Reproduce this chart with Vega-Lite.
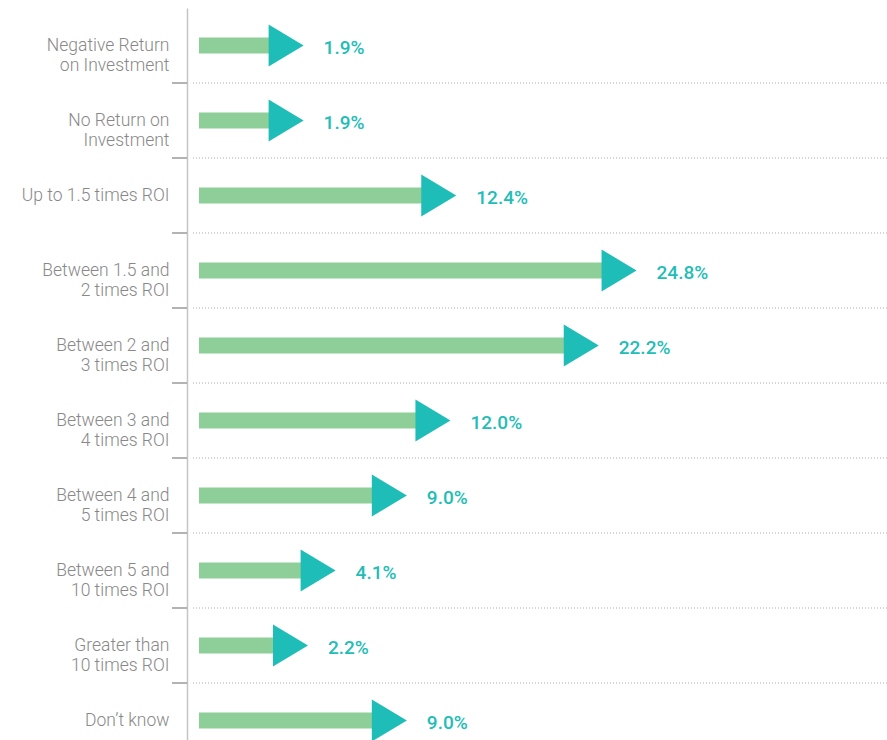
{
  "$schema": "https://vega.github.io/schema/vega-lite/v6.json",
  "autosize": "none",
  "padding": {"left": 187, "top": 8, "right": 0, "bottom": 0},
  "width": 700,
  "height": 750,
  "background": "white",
  "config": {"view": {"stroke": null}},
  "data": {
    "values": [
      {"label": "Negative Return|on Investment", "share": 0.019},
      {"label": "No Return on|Investment", "share": 0.019},
      {"label": "Up to 1.5 times ROI", "share": 0.124},
      {"label": "Between 1.5 and|2 times ROI", "share": 0.248},
      {"label": "Between 2 and|3 times ROI", "share": 0.222},
      {"label": "Between 3 and|4 times ROI", "share": 0.120},
      {"label": "Between 4 and|5 times ROI", "share": 0.090},
      {"label": "Between 5 and|10 times ROI", "share": 0.041},
      {"label": "Greater than|10 times ROI", "share": 0.022},
      {"label": "Don’t know", "share": 0.090}
    ]
  },
  "layer": [
    {
      "mark": {"type": "bar", "color": "#8ecf99", "height": 16, "xOffset": 43},
      "encoding": {
        "y": {
          "field": "label",
          "type": "nominal",
          "sort": null,
          "scale": {"paddingInner": 0, "paddingOuter": 0},
          "axis": {
            "title": null,
            "ticks": false,
            "grid": false,
            "labelPadding": 18,
            "labelExpr": "split(datum.label, '|')",
            "labelFont": "Roboto",
            "labelFontWeight": 300,
            "labelFontSize": 17.5,
            "labelLineHeight": 20.5,
            "labelColor": "#888888",
            "labelLimit": 300,
            "domainColor": "#c4c4c4",
            "domainWidth": 1.5
          }
        },
        "x": {
          "field": "share",
          "type": "quantitative",
          "scale": {"domain": [-0.00825, 0.4732], "nice": false, "zero": false},
          "axis": null
        },
        "x2": {"datum": 0}
      }
    },
    {
      "transform": [{"filter": "datum.label != 'Don’t know'"}],
      "mark": {"type": "rule", "color": "#a8a8a8", "strokeWidth": 1, "strokeDash": [1, 2]},
      "encoding": {
        "y": {"field": "label", "type": "nominal", "sort": null, "bandPosition": 1},
        "x": {"datum": -0.0041, "type": "quantitative"},
        "x2": {"datum": 0.4732}
      }
    },
    {
      "transform": [{"filter": "datum.label != 'Don’t know'"}],
      "mark": {"type": "rule", "color": "#9a9a9a", "strokeWidth": 1.5},
      "encoding": {
        "y": {"field": "label", "type": "nominal", "sort": null, "bandPosition": 1},
        "x": {"datum": -0.01857, "type": "quantitative"},
        "x2": {"datum": -0.00825}
      }
    },
    {
      "mark": {
        "type": "point",
        "shape": "M0,0L-1.667,-1L-1.667,1Z",
        "size": 1764,
        "filled": true,
        "opacity": 1,
        "color": "#1fbdb8",
        "strokeWidth": 0,
        "xOffset": 77
      },
      "encoding": {
        "y": {"field": "label", "type": "nominal", "sort": null},
        "x": {"field": "share", "type": "quantitative"}
      }
    },
    {
      "mark": {
        "type": "text",
        "align": "left",
        "baseline": "middle",
        "xOffset": 97,
        "dy": 2,
        "font": "Roboto",
        "fontWeight": 500,
        "fontSize": 19,
        "color": "#22bdb6"
      },
      "encoding": {
        "y": {"field": "label", "type": "nominal", "sort": null},
        "x": {"field": "share", "type": "quantitative"},
        "text": {"field": "share", "type": "quantitative", "format": ".1%"}
      }
    }
  ]
}
